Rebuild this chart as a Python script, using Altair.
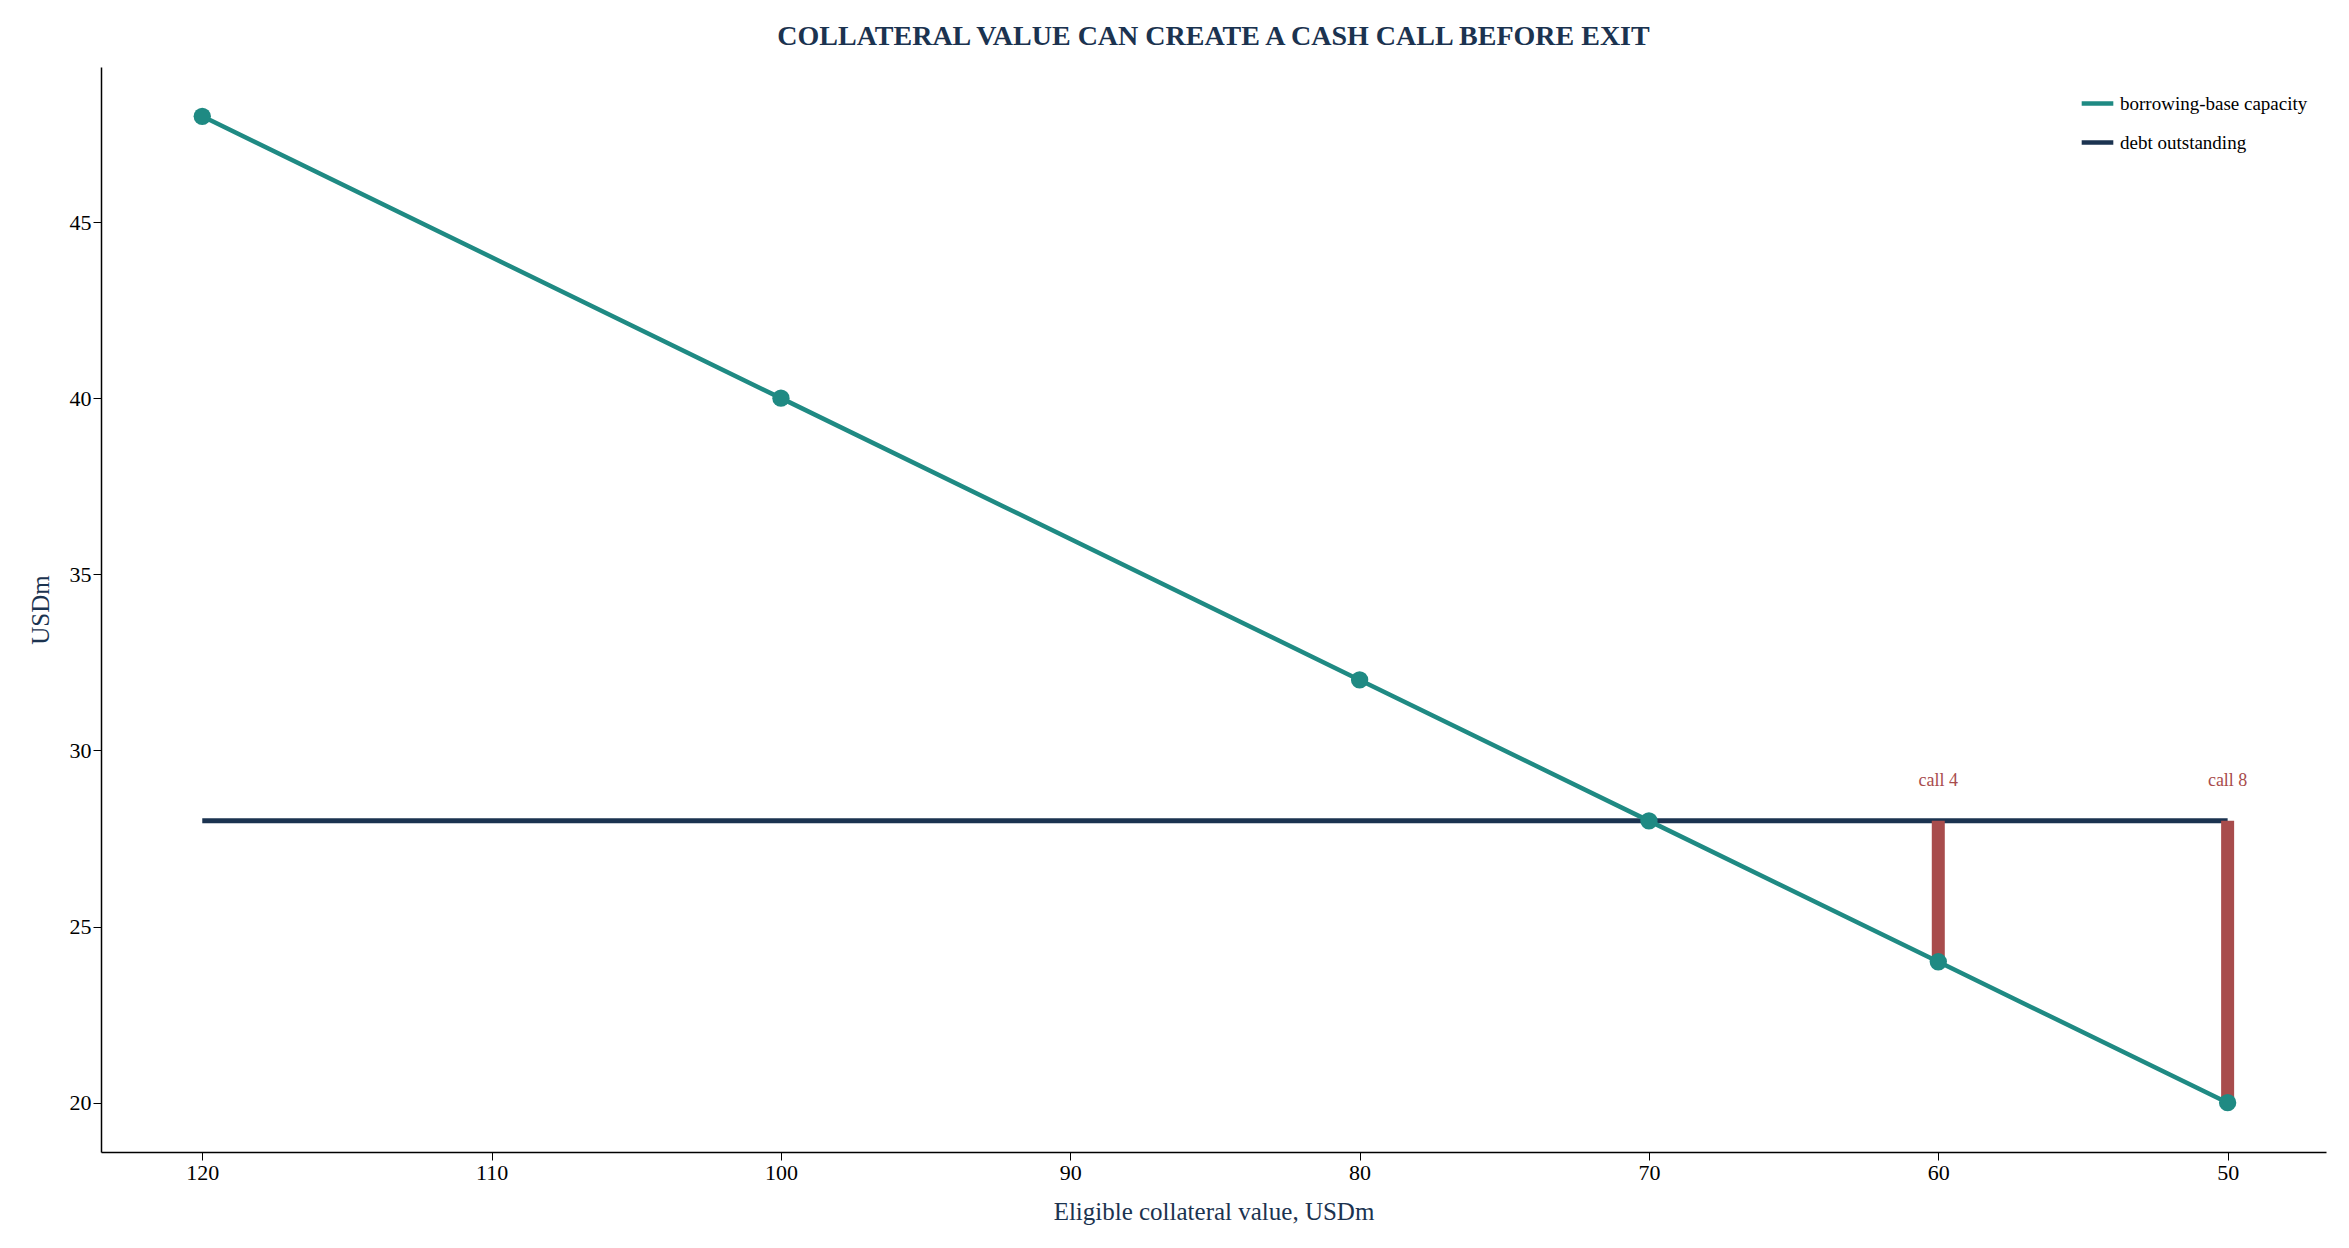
import altair as alt
import pandas as pd

# values
collateral = [120, 100, 80, 70, 60, 50]
capacity = [48, 40, 32, 28, 24, 20]
debt = 28
call_x = [60, 50]
call_low = [24, 20]
call_labels = ["call 4", "call 8"]

font = "Liberation Serif"
teal = "#1f8a83"
navy = "#1b3350"
red = "#a84c4c"

cap_df = pd.DataFrame({"x": collateral, "y": capacity, "series": "borrowing-base capacity"})
debt_df = pd.DataFrame({"x": [120, 50], "y": [debt, debt], "series": "debt outstanding"})
calls = pd.DataFrame({"x": call_x, "y": call_low, "y2": [debt] * 2, "label": call_labels})

xs = alt.Scale(domain=[123.5, 46.6], nice=False, zero=False)
ys = alt.Scale(domain=[18.6, 49.4], nice=False, zero=False)
color = alt.Color("series:N",
                  scale=alt.Scale(domain=["borrowing-base capacity", "debt outstanding"], range=[teal, navy]),
                  legend=alt.Legend(title=None, orient="top-right", symbolType="stroke",
                                    symbolStrokeWidth=4.5, symbolSize=1000, labelFont=font,
                                    labelFontSize=19, rowPadding=10, labelLimit=0))

x_enc = alt.X("x:Q", scale=xs, title="Eligible collateral value, USDm",
              axis=alt.Axis(values=[120, 110, 100, 90, 80, 70, 60, 50]))
y_enc = alt.Y("y:Q", scale=ys, title="USDm", axis=alt.Axis(values=[20, 25, 30, 35, 40, 45]))

debt_line = alt.Chart(debt_df).mark_line(strokeWidth=5).encode(x=x_enc, y=y_enc, color=color)
cap_line = alt.Chart(cap_df).mark_line(strokeWidth=4.5).encode(x=x_enc, y=y_enc, color=color)
cap_pts = alt.Chart(cap_df).mark_circle(size=300, opacity=1, color=teal).encode(x=x_enc, y=y_enc)
rules = alt.Chart(calls).mark_rule(strokeWidth=13, color=red).encode(x="x:Q", y="y:Q", y2="y2:Q")
labels = alt.Chart(calls).mark_text(font=font, fontSize=18, color=red, dy=-40).encode(
    x="x:Q", y="y2:Q", text="label:N")

chart = alt.layer(debt_line, cap_line, rules, cap_pts, labels).properties(
    width=2225, height=1085,
    padding={"left": 20, "top": 15, "right": 5, "bottom": 5},
    title=alt.Title("COLLATERAL VALUE CAN CREATE A CASH CALL BEFORE EXIT",
                    font=font, fontSize=28, fontWeight="bold", color=navy, offset=16),
).configure_view(stroke=None).configure_axis(
    grid=False, labelFont=font, titleFont=font, labelFontSize=22, titleFontSize=25,
    titleFontWeight="normal", titleColor=navy, labelColor="black", domainColor="black",
    tickColor="black", tickSize=8, domainWidth=1.5, titlePadding=16,
)

chart.save("out.html", embed_options={"renderer": "svg", "actions": False})
